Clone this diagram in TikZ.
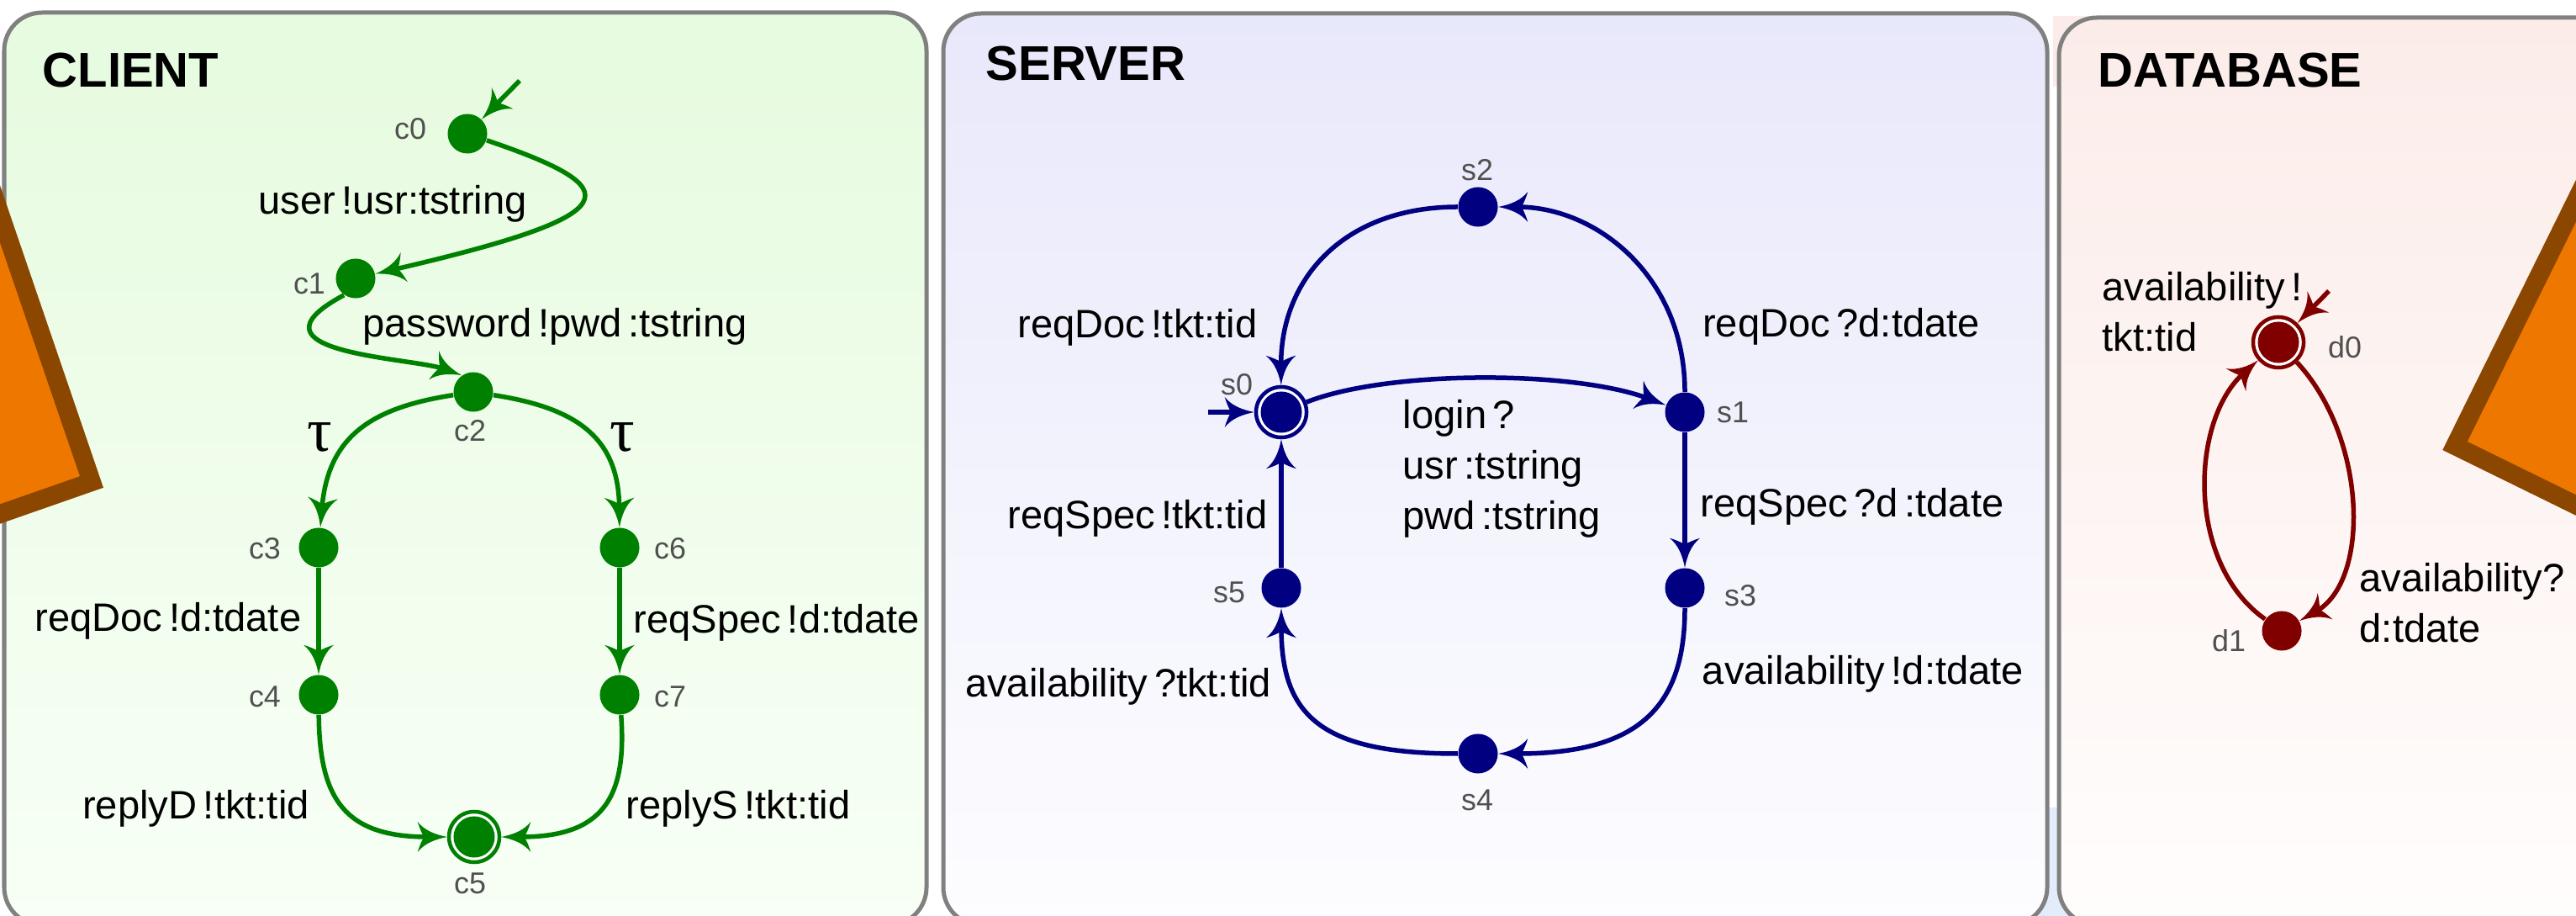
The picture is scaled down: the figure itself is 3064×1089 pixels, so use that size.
\documentclass[tikz,border=0pt]{standalone}
\usepackage{fontspec}
\setmainfont{Liberation Sans}
\newfontfamily\grkfont{Liberation Serif}
\usetikzlibrary{arrows.meta}

\definecolor{cgreen}{HTML}{008000}
\definecolor{snavy}{HTML}{000080}
\definecolor{dmaroon}{HTML}{800000}
\definecolor{frame}{HTML}{808080}
\definecolor{lblgray}{HTML}{505050}
\definecolor{clientTop}{HTML}{E6FBDF}
\definecolor{clientBot}{HTML}{F8FFF6}
\definecolor{serverTop}{HTML}{E8E8FB}
\definecolor{serverBot}{HTML}{FDFDFF}
\definecolor{dbTop}{HTML}{FBECE9}
\definecolor{dbBot}{HTML}{FFFDFC}
\definecolor{flagfill}{HTML}{EE7700}
\definecolor{flagedge}{HTML}{8B4600}
\definecolor{gapblue}{HTML}{E2ECFB}
\definecolor{gappink}{HTML}{FBECE9}

% small gap before the channel operators
\newcommand\sk{\hspace{0.16em}}

% spike-shaped arrow tip with concave flanks and a notched back
\pgfdeclarearrow{
  name = Spike,
  parameters = {\the\pgfarrowlength,\the\pgfarrowwidth},
  setup code = {
    \pgfarrowssettipend{\pgfarrowlength}
    \pgfarrowssetbackend{0pt}
    \pgfarrowssetlineend{.35\pgfarrowlength}
    \pgfarrowshullpoint{\pgfarrowlength}{0pt}
    \pgfarrowsupperhullpoint{0pt}{.5\pgfarrowwidth}
    \pgfarrowssavethe\pgfarrowlength
    \pgfarrowssavethe\pgfarrowwidth
  },
  drawing code = {
    \pgfpathmoveto{\pgfqpoint{\pgfarrowlength}{0pt}}
    \pgfpathcurveto{\pgfqpoint{.6\pgfarrowlength}{.08\pgfarrowwidth}}{\pgfqpoint{.25\pgfarrowlength}{.2\pgfarrowwidth}}{\pgfqpoint{0pt}{.5\pgfarrowwidth}}
    \pgfpathcurveto{\pgfqpoint{.06\pgfarrowlength}{.3\pgfarrowwidth}}{\pgfqpoint{.15\pgfarrowlength}{.1\pgfarrowwidth}}{\pgfqpoint{.22\pgfarrowlength}{0pt}}
    \pgfpathcurveto{\pgfqpoint{.15\pgfarrowlength}{-.1\pgfarrowwidth}}{\pgfqpoint{.06\pgfarrowlength}{-.3\pgfarrowwidth}}{\pgfqpoint{0pt}{-.5\pgfarrowwidth}}
    \pgfpathcurveto{\pgfqpoint{.25\pgfarrowlength}{-.2\pgfarrowwidth}}{\pgfqpoint{.6\pgfarrowlength}{-.08\pgfarrowwidth}}{\pgfqpoint{\pgfarrowlength}{0pt}}
    \pgfpathclose
    \pgfusepathqfill
  },
  defaults = {length=10pt, width=10pt}
}

\tikzset{
  panel/.style={draw=frame, line width=0.05cm, rounded corners=0.45cm},
  flag/.style={fill=flagfill, draw=flagedge, line width=0.22cm, line join=miter},
  tr/.style={line width=0.055cm, -{Spike[length=0.35cm,width=0.36cm]}},
  st/.style={circle, inner sep=0pt, minimum size=0.47cm, fill=#1},
  fin/.style={circle, inner sep=0pt, minimum size=0.60cm, draw=#1, line width=0.045cm,
    fill=white, path picture={\fill[#1] (path picture bounding box.center) circle (0.245cm);}},
  lbl/.style={text=lblgray, font=\fontsize{10.2}{12}\selectfont, inner sep=0pt},
  act/.style={font=\fontsize{13.4}{17}\selectfont, inner sep=0pt},
  actb/.style={act, align=left, anchor=north west},
  ttl/.style={font=\fontsize{16.5}{20}\selectfont\bfseries, inner sep=0pt, anchor=base west},
  tau/.style={font=\grkfont\fontsize{21}{22}\selectfont, inner sep=0pt},
}

\begin{document}
\begin{tikzpicture}[x=0.01cm, y=-0.01cm]
\useasboundingbox[fill=white] (0,0) rectangle (3064,1089);

% strips showing between the panels
\fill[gapblue] (2425,960) rectangle (2460,1089);
\fill[gappink] (2442,19) rectangle (2600,103);

% panels
\path[panel, top color=clientTop, bottom color=clientBot] (5,15) rectangle (1102,1100);
\path[panel, top color=serverTop, bottom color=serverBot] (1122,16) rectangle (2435,1100);
\path[panel, top color=dbTop, bottom color=dbBot] (2449,21) rectangle (3150,1100);

% orange wedges at the sides
\draw[flag] (-60,79) -- (109,573) -- (-60,632) -- cycle;
\draw[flag] (3130,105) -- (2920,530) -- (3130,633) -- cycle;

% titles
\node[ttl] (tclient) at (50,104) {CLIENT};
\node[ttl] (tserver) at (1172,96) {SERVER};
\node[ttl] (tdb) at (2495,104) {DATABASE};

% ---------------- client ----------------
\node[st=cgreen] (c0) at (556,159) {};
\node[st=cgreen] (c1) at (423,331) {};
\node[st=cgreen] (c2) at (563,466) {};
\node[st=cgreen] (c3) at (379,651) {};
\node[st=cgreen] (c4) at (379,826) {};
\node[fin=cgreen] (c5) at (564,995) {};
\node[st=cgreen] (c6) at (737,651) {};
\node[st=cgreen] (c7) at (737,826) {};
\coordinate (c0in) at (618,96);

\node[lbl] (lc0) at (488,153) {c0};
\node[lbl] (lc1) at (368,337) {c1};
\node[lbl] (lc2) at (559,512) {c2};
\node[lbl] (lc3) at (315,652) {c3};
\node[lbl] (lc4) at (315,828) {c4};
\node[lbl] (lc5) at (559,1050) {c5};
\node[lbl] (lc6) at (797,652) {c6};
\node[lbl] (lc7) at (797,828) {c7};

\draw[tr, cgreen] (c0in) -- (c0);
\draw[tr, cgreen] (c0) .. controls (750,225) and (750,255) .. (c1);
\draw[tr, cgreen] (c1.235) .. controls (280,420) and (490,425) .. (c2.125);
\draw[tr, cgreen] (c2) .. controls (440,485) and (390,520) .. (c3);
\draw[tr, cgreen] (c2) .. controls (686,485) and (736,520) .. (c6);
\draw[tr, cgreen] (c3) -- (c4);
\draw[tr, cgreen] (c6) -- (c7);
\draw[tr, cgreen] (c4) .. controls (380,950) and (410,995) .. (c5);
\draw[tr, cgreen] (c7) .. controls (746,950) and (716,995) .. (c5);

\node[act] (a01) at (467,242) {user\sk!usr:tstring};
\node[act] (a12) at (660,388) {password\sk!pwd\sk:tstring};
\node[tau] (a23) at (380,520) {τ};
\node[tau] (a26) at (740,520) {τ};
\node[act] (a34) at (200,738) {reqDoc\sk!d:tdate};
\node[act] (a67) at (924,740) {reqSpec\sk!d:tdate};
\node[act] (a45) at (233,961) {replyD\sk!tkt:tid};
\node[act] (a75) at (878,961) {replyS\sk!tkt:tid};

% ---------------- server ----------------
\node[fin=snavy] (s0) at (1524,490) {};
\node[st=snavy] (s1) at (2004,490) {};
\node[st=snavy] (s2) at (1758,246) {};
\node[st=snavy] (s3) at (2004,699) {};
\node[st=snavy] (s4) at (1758,896) {};
\node[st=snavy] (s5) at (1524,699) {};
\coordinate (s0in) at (1437,490);

\node[lbl] (ls0) at (1471,457) {s0};
\node[lbl] (ls1) at (2061,490) {s1};
\node[lbl] (ls2) at (1757,202) {s2};
\node[lbl] (ls3) at (2070,708) {s3};
\node[lbl] (ls4) at (1757,951) {s4};
\node[lbl] (ls5) at (1462,704) {s5};

\draw[tr, snavy] (s0in) -- (s0);
\draw[tr, snavy] (s0) .. controls (1650,440) and (1870,440) .. (s1);
\draw[tr, snavy] (s1) .. controls (2004,330) and (1900,246) .. (s2);
\draw[tr, snavy] (s2) .. controls (1600,246) and (1523,330) .. (s0);
\draw[tr, snavy] (s1) -- (s3);
\draw[tr, snavy] (s3) .. controls (2004,840) and (1950,896) .. (s4);
\draw[tr, snavy] (s4) .. controls (1570,896) and (1524,850) .. (s5);
\draw[tr, snavy] (s5) -- (s0);

\node[act] (b20) at (1353,389) {reqDoc\sk!tkt:tid};
\node[act] (b12) at (2190,388) {reqDoc\sk?d:tdate};
\node[actb] (b01) at (1668,475) {login\sk?\\usr\sk:tstring\\pwd\sk:tstring};
\node[act] (b50) at (1353,616) {reqSpec\sk!tkt:tid};
\node[act] (b13) at (2203,602) {reqSpec\sk?d\sk:tdate};
\node[act] (b34) at (2216,801) {availability\sk!d:tdate};
\node[act] (b45) at (1330,816) {availability\sk?tkt:tid};

% ---------------- database ----------------
\node[fin=dmaroon] (d0) at (2710,407) {};
\node[st=dmaroon] (d1) at (2714,750) {};
\coordinate (d0in) at (2770,346);

\node[lbl] (ld0) at (2789,413) {d0};
\node[lbl] (ld1) at (2651,762) {d1};

\draw[tr, dmaroon] (d0in) -- (d0);
\draw[tr, dmaroon] (d0) .. controls (2815,520) and (2820,690) .. (d1);
\draw[tr, dmaroon] (d1) .. controls (2600,670) and (2605,500) .. (d0);

\node[actb] (e10) at (2500,323) {availability\sk!\\tkt:tid};
\node[actb] (e01) at (2806,669) {availability?\\d:tdate};
\end{tikzpicture}
\end{document}
